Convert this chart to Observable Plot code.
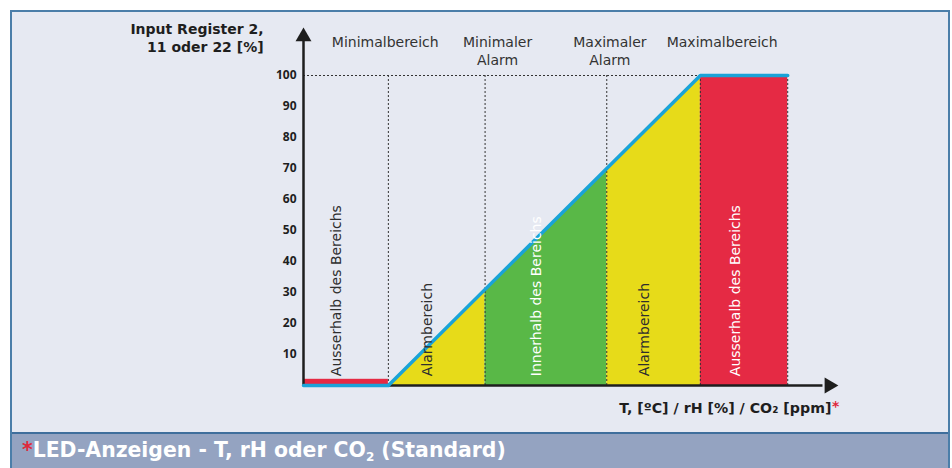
<!DOCTYPE html>
<html>
<head>
<meta charset="utf-8">
<script src="https://cdn.jsdelivr.net/npm/d3@7"></script>
<script src="https://cdn.jsdelivr.net/npm/@observablehq/plot@0.6"></script>
<style>
  html, body { margin: 0; padding: 0; background: #ffffff; }
  #frame {
    position: absolute; left: 10px; top: 10px; width: 936px; height: 460px;
    border: 2px solid #4b7ea9; border-bottom: none; background: #e6e9f2;
    font-family: "DejaVu Sans", sans-serif;
  }
  #chart { height: 420px; }
  #chart svg { display: block; overflow: visible; }
  #footer {
    height: 34px; border-top: 2px solid #3f6e9c; background: #94a3c1;
    color: #ffffff; font-weight: bold; font-size: 20.4px; line-height: 33px;
    padding-left: 10px; white-space: nowrap;
  }
  #footer .ast { color: #e0283c; }
  #footer sub { font-size: 12px; vertical-align: -4px; line-height: 0; }
</style>
</head>
<body>
<div id="frame">
  <div id="chart"></div>
  <div id="footer"></div>
</div>
<script>
// ---- data ----
const yTicks = [10, 20, 30, 40, 50, 60, 70, 80, 90, 100];
const axisStartX = -27.2;          // where the y axis crosses the x axis
const axisEndX = 141.3;            // x axis arrow
const rampX = [-27.2, 0, 100, 128]; // blue characteristic curve
const rampY = [0, 0, 100, 100];
const boundaries = [0, 31, 70, 100, 128]; // dotted separators
const zoneLabels = ["Ausserhalb des Bereichs", "Alarmbereich", "Innerhalb des Bereichs", "Alarmbereich", "Ausserhalb des Bereichs"];
const zoneFrom = [-27.2, 0, 31, 70, 100];
const zoneTo = [0, 31, 70, 100, 128];
const lowBarHeight = 2;
const headerLabels = ["Minimalbereich", "Minimaler\nAlarm", "Maximaler\nAlarm", "Maximalbereich"];
const headerX = [-1, 35, 71, 107];
const yTitle = "Input Register 2,\n11 oder 22 [%]";
const xTitle = "T, [ºC] / rH [%] / CO₂ [ppm]";
const footerParts = ["LED-Anzeigen - T, rH oder CO", "2", " (Standard)"];

// ---- styles ----
const zoneFills = ["#e52a44", "#e7db19", "#59b847", "#e7db19", "#e52a44"];
const zoneTextColors = ["#2e2e2e", "#2e2e2e", "#ffffff", "#2e2e2e", "#ffffff"];
const ink = "#1e1e1e";
const font = "'DejaVu Sans', sans-serif";

const ramp = d3.scaleLinear().domain(rampX).range(rampY);

const areaMarks = [];
for (let i = 1; i < zoneLabels.length; i++) {
  areaMarks.push(Plot.areaY([zoneFrom[i], zoneTo[i]], {x: d => d, y: d => ramp(d), fill: zoneFills[i]}));
}

const chart = Plot.plot({
  width: 936,
  height: 420,
  marginLeft: 291,
  marginRight: 123.34,
  marginTop: 63,
  marginBottom: 47,
  style: {background: "transparent", fontFamily: font, overflow: "visible"},
  x: {domain: [axisStartX, 140], axis: null},
  y: {domain: [0, 100], axis: null},
  color: {type: "identity"},
  marks: [
    ...areaMarks,
    Plot.rect([0], {x1: zoneFrom[0], x2: zoneTo[0], y1: 0, y2: lowBarHeight, fill: zoneFills[0]}),
    Plot.ruleX(boundaries, {y1: 0, y2: 100, stroke: "#333", strokeWidth: 1, strokeDasharray: "2,2"}),
    Plot.ruleY([100], {x1: axisStartX, x2: 100, stroke: "#333", strokeWidth: 1, strokeDasharray: "2,2"}),
    Plot.ruleX([axisStartX], {y1: 0, y2: 112.5, stroke: ink, strokeWidth: 2.5}),
    Plot.ruleY([0], {x1: axisStartX, x2: axisEndX - 2, stroke: ink, strokeWidth: 2.5}),
    Plot.line(rampX.map((x, i) => ({x, y: rampY[i]})), {x: "x", y: "y", stroke: "#1aa3d8", strokeWidth: 3.5}),
    Plot.dot([0], {x: axisStartX, y: 112.5, symbol: "triangle", r: 5.9, fill: ink, stroke: "none"}),
    Plot.dot([0], {x: axisEndX, y: 0, symbol: "triangle", r: 5.9, rotate: 90, fill: ink, stroke: "none"}),
    Plot.axisY({ticks: yTicks, tickSize: 0, tickPadding: 7, label: null, fontSize: 12, fontWeight: "bold", fill: ink, fontFamily: "'Open Sans', sans-serif"}),
    Plot.text(zoneLabels, {
      x: (d, i) => (zoneFrom[i] + zoneTo[i]) / 2, y: 3, rotate: -90, textAnchor: "start",
      fill: (d, i) => zoneTextColors[i], fontSize: 14, dx: -9
    }),
    Plot.text(headerLabels, {x: headerX, y: 113.3, lineAnchor: "top", lineHeight: 1.28, fontSize: 14, fill: "#333"}),
    Plot.text([yTitle], {x: -40, y: 117.6, textAnchor: "end", lineAnchor: "top", lineHeight: 1.3, fontSize: 14, fontWeight: "bold", fill: ink}),
    Plot.text([xTitle], {x: 142, y: -7.5, textAnchor: "end", fontSize: 14.2, fontWeight: "bold", fill: ink}),
    Plot.text(["*"], {x: 142, y: -7.5, textAnchor: "start", fontSize: 14, fontWeight: "bold", fill: "#e0283c", dx: 0.5, dy: -2})
  ]
});
document.getElementById("chart").appendChild(chart);

const footer = document.getElementById("footer");
footer.innerHTML = '<span class="ast">*</span>' + footerParts[0] + '<sub>' + footerParts[1] + '</sub>' + footerParts[2];
</script>
</body>
</html>
